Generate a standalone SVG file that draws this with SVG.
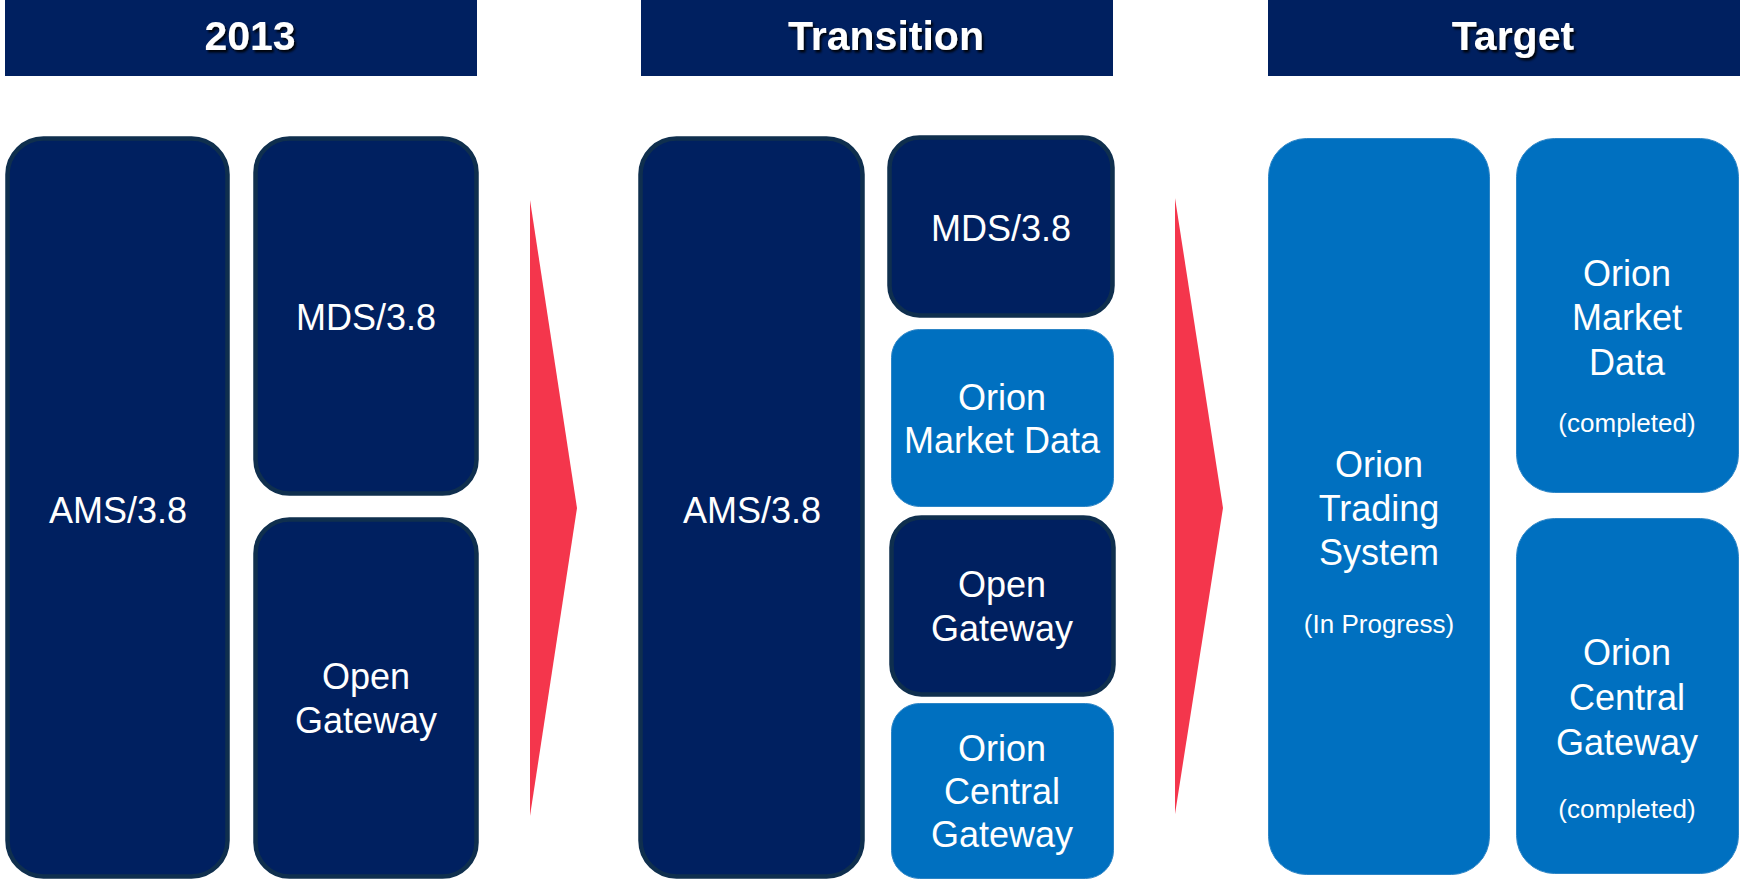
<svg xmlns="http://www.w3.org/2000/svg" width="1740" height="882" viewBox="0 0 1740 882">
  <defs>
    <filter id="shadow" x="-10%" y="-20%" width="130%" height="150%">
      <feDropShadow dx="2" dy="2.5" stdDeviation="1" flood-color="#000000" flood-opacity="0.9"/>
    </filter>
  </defs>
  <style>
    .hdr { fill: #002060; }
    .htxt { font-family: "Liberation Sans", Arial, sans-serif; font-weight: bold; font-size: 41px; fill: #ffffff; text-anchor: middle; filter: url(#shadow); }
    .dark { fill: #002060; stroke: #0f2f4e; stroke-width: 4.5; }
    .light { fill: #0070c0; stroke: #2c85c6; stroke-width: 1; }
    .t { font-family: "Liberation Sans", Arial, sans-serif; font-size: 36px; fill: #ffffff; text-anchor: middle; }
    .s { font-family: "Liberation Sans", Arial, sans-serif; font-size: 26px; fill: #ffffff; text-anchor: middle; }
    .arrow { fill: #f4364c; }
  </style>
  <rect width="1740" height="882" fill="#ffffff"/>

  <g id="header-2013">
    <rect class="hdr" x="5" y="0" width="472" height="76"/>
    <text class="htxt" x="250" y="50">2013</text>
  </g>
  <g id="header-transition">
    <rect class="hdr" x="641" y="0" width="472" height="76"/>
    <text class="htxt" x="886" y="50">Transition</text>
  </g>
  <g id="header-target">
    <rect class="hdr" x="1268" y="0" width="472" height="76"/>
    <text class="htxt" x="1513" y="50">Target</text>
  </g>

  <g id="connectors">
    <polygon class="arrow" points="530,200 577,508 530,816"/>
    <polygon class="arrow" points="1175,198 1223,508 1175,814"/>
  </g>

  <g id="c1-ams">
    <rect class="dark" x="7.5" y="138.5" width="220" height="738" rx="36"/>
    <text class="t" x="118" y="523">AMS/3.8</text>
  </g>
  <g id="c1-mds">
    <rect class="dark" x="255.5" y="138.5" width="221" height="355" rx="34"/>
    <text class="t" x="366" y="330">MDS/3.8</text>
  </g>
  <g id="c1-open-gateway">
    <rect class="dark" x="255.5" y="519.5" width="221" height="357" rx="34"/>
    <text class="t" x="366" y="689">Open</text>
    <text class="t" x="366" y="733">Gateway</text>
  </g>

  <g id="c2-ams">
    <rect class="dark" x="640.5" y="138.5" width="222" height="738" rx="36"/>
    <text class="t" x="752" y="523">AMS/3.8</text>
  </g>
  <g id="c2-mds">
    <rect class="dark" x="889.5" y="137.5" width="223" height="178" rx="30"/>
    <text class="t" x="1001" y="241">MDS/3.8</text>
  </g>
  <g id="c2-orion-market-data">
    <rect class="light" x="891.5" y="329.5" width="222" height="177" rx="28"/>
    <text class="t" x="1002" y="410">Orion</text>
    <text class="t" x="1002" y="453">Market Data</text>
  </g>
  <g id="c2-open-gateway">
    <rect class="dark" x="891.5" y="517.5" width="222" height="177" rx="30"/>
    <text class="t" x="1002" y="597">Open</text>
    <text class="t" x="1002" y="641">Gateway</text>
  </g>
  <g id="c2-orion-central-gateway">
    <rect class="light" x="891.5" y="703.5" width="222" height="175" rx="28"/>
    <text class="t" x="1002" y="761">Orion</text>
    <text class="t" x="1002" y="804">Central</text>
    <text class="t" x="1002" y="847">Gateway</text>
  </g>

  <g id="c3-orion-trading-system">
    <rect class="light" x="1268.5" y="138.5" width="221" height="736" rx="38"/>
    <text class="t" x="1379" y="477">Orion</text>
    <text class="t" x="1379" y="521">Trading</text>
    <text class="t" x="1379" y="565">System</text>
    <text class="s" x="1379" y="633">(In Progress)</text>
  </g>
  <g id="c3-orion-market-data">
    <rect class="light" x="1516.5" y="138.5" width="222" height="354" rx="38"/>
    <text class="t" x="1627" y="286">Orion</text>
    <text class="t" x="1627" y="330">Market</text>
    <text class="t" x="1627" y="375">Data</text>
    <text class="s" x="1627" y="432">(completed)</text>
  </g>
  <g id="c3-orion-central-gateway">
    <rect class="light" x="1516.5" y="518.5" width="222" height="355" rx="38"/>
    <text class="t" x="1627" y="665">Orion</text>
    <text class="t" x="1627" y="710">Central</text>
    <text class="t" x="1627" y="755">Gateway</text>
    <text class="s" x="1627" y="818">(completed)</text>
  </g>
</svg>
